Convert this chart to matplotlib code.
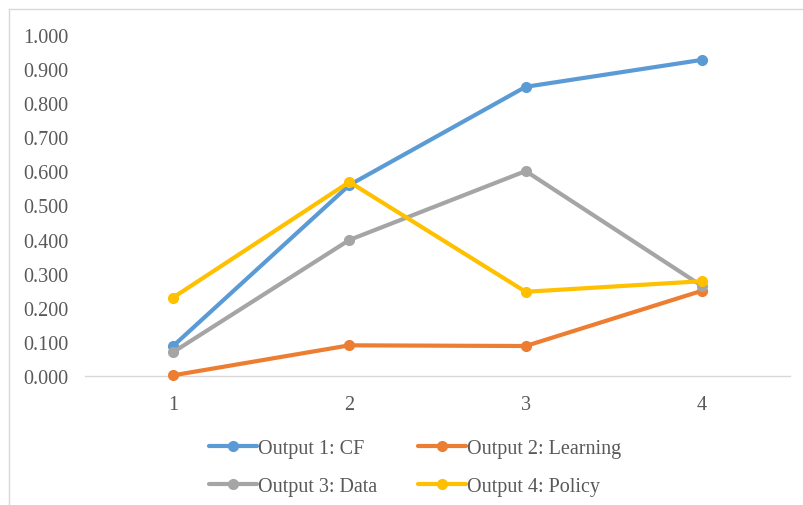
import matplotlib.pyplot as plt
from matplotlib.lines import Line2D

# Chart values
x = [1, 2, 3, 4]
cf = [0.088, 0.560, 0.848, 0.927]
learning = [0.002, 0.090, 0.088, 0.250]
data = [0.070, 0.399, 0.601, 0.264]
policy = [0.230, 0.569, 0.247, 0.278]

labels = ['Output 1: CF', 'Output 2: Learning', 'Output 3: Data', 'Output 4: Policy']
colors = ['#5B9BD5', '#ED7D31', '#A5A5A5', '#FFC000']
yticks = [i / 10 for i in range(11)]

plt.rcParams['font.family'] = ['Liberation Serif', 'DejaVu Serif']

fig = plt.figure(figsize=(8.04, 5.06), dpi=100)
ax = fig.add_axes([0.1057, 0.2549, 0.877, 0.674])

lines = []
for series, lab, col in zip([cf, learning, data, policy], labels, colors):
    ln, = ax.plot(x, series, color=col, lw=3, marker='o', ms=7,
                  solid_capstyle='round', label=lab)
    lines.append(ln)

ax.set_xlim(0.5, 4.5)
ax.set_ylim(0, 1.0)
ax.set_xticks(x)
ax.set_yticks(yticks)
ax.set_yticklabels([f'{v:.3f}' for v in yticks])
ax.tick_params(length=0, labelsize=14.5, colors='#595959')
ax.tick_params(axis='x', pad=14)
ax.tick_params(axis='y', pad=12)
for s in ['top', 'right', 'left']:
    ax.spines[s].set_visible(False)
ax.spines['bottom'].set_color('#D9D9D9')
ax.spines['bottom'].set_linewidth(1)
ax.spines['bottom'].set_zorder(0)
for ln in lines:
    ln.set_clip_on(False)

# legend: CF / Data in first column, Learning / Policy in second
order = [0, 2, 1, 3]
leg = fig.legend([lines[i] for i in order], [labels[i] for i in order],
                 ncol=2, frameon=False, loc='center',
                 bbox_to_anchor=(0.516, 0.074), fontsize=14.5,
                 handlelength=2.4, handletextpad=0.05, columnspacing=2.0,
                 labelspacing=0.9, labelcolor='#595959')

# chart frame (top and left edge visible)
fig.add_artist(Line2D([0.011, 1.0], [0.980, 0.980], color='#D9D9D9', lw=1))
fig.add_artist(Line2D([0.011, 0.011], [0.0, 0.980], color='#D9D9D9', lw=1))

fig.savefig('out.png', dpi=100)
